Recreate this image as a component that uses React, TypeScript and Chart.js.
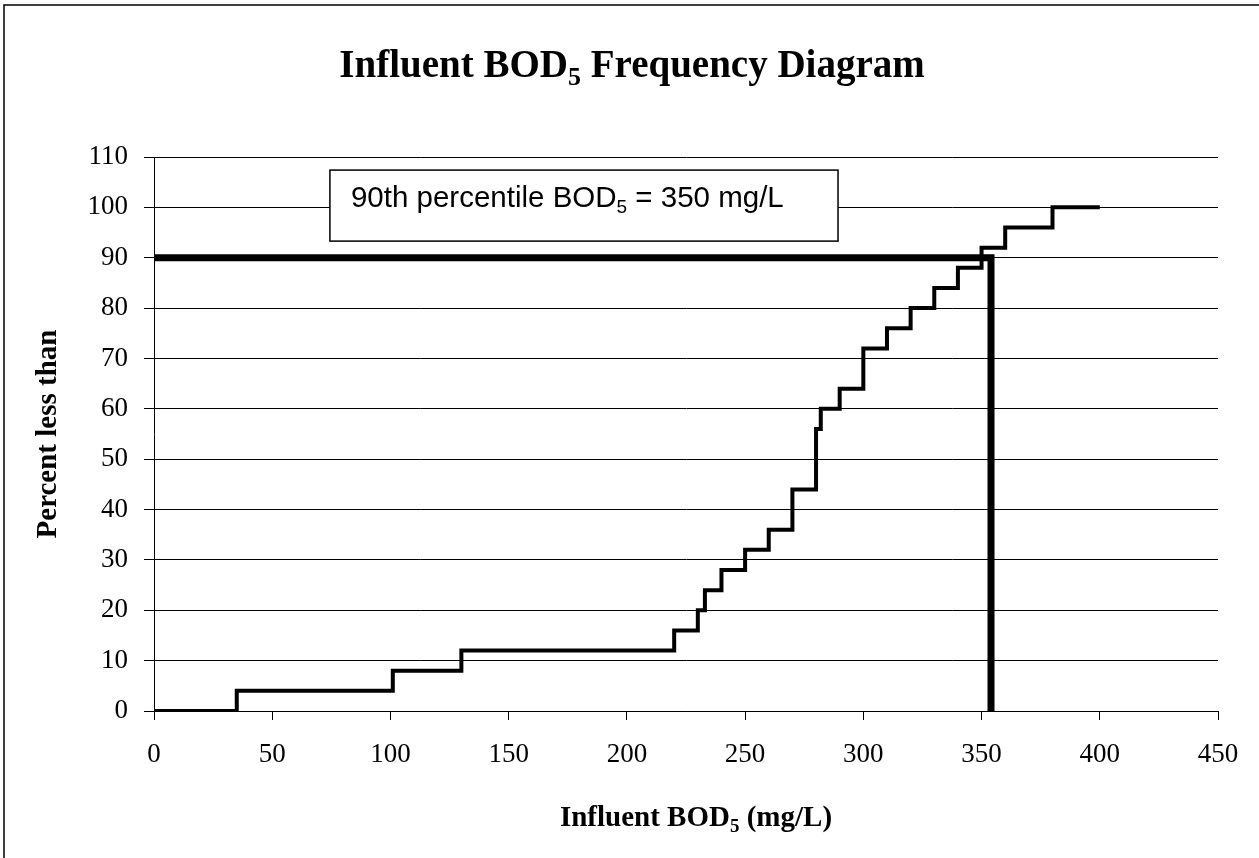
import React, { useEffect, useRef } from "react";
import { Chart, registerables } from "chart.js";

Chart.register(...registerables);

// Cumulative frequency curve (step): x = influent BOD5 (mg/L), y = percent less than
const bodValues = [0, 35, 101, 130, 220, 230, 233, 240, 250, 260, 270, 280, 282, 290, 300, 310, 320, 330, 340, 350, 360, 380, 400];
const percentLessThan = [0, 4, 8, 12, 16, 20, 24, 28, 32, 36, 44, 56, 60, 64, 72, 76, 80, 84, 88, 92, 96, 100, 100];

// 90th percentile guide line
const percentileLineX = [0, 354, 354];
const percentileLineY = [90, 90, 0];

// Axis ticks
const xTickValues = [0, 50, 100, 150, 200, 250, 300, 350, 400, 450];
const yTickValues = [0, 10, 20, 30, 40, 50, 60, 70, 80, 90, 100, 110];

// Texts (runs: [normal, subscript, normal])
const titleRuns = ["Influent BOD", "5", " Frequency Diagram"];
const xTitleRuns = ["Influent BOD", "5", " (mg/L)"];
const yTitleText = "Percent less than";
const noteRuns = ["90th percentile BOD", "5", " = 350 mg/L"];

const SERIF = "'Liberation Serif', 'Times New Roman', serif";
const SANS = "'Liberation Sans', Arial, sans-serif";

function drawRuns(
  ctx: CanvasRenderingContext2D,
  runs: string[],
  x: number,
  y: number,
  size: number,
  weight: string,
  family: string,
  align: "left" | "center"
) {
  const subSize = Math.round(size * 0.66);
  const fonts = runs.map((_, i) => `${weight} ${i === 1 ? subSize : size}px ${family}`);
  const widths = runs.map((t, i) => {
    ctx.font = fonts[i];
    return ctx.measureText(t).width;
  });
  const total = widths.reduce((a, b) => a + b, 0);
  let cx = align === "center" ? x - total / 2 : x;
  ctx.textAlign = "left";
  ctx.textBaseline = "alphabetic";
  runs.forEach((t, i) => {
    ctx.font = fonts[i];
    ctx.fillText(t, cx, i === 1 ? y + size * 0.2 : y);
    cx += widths[i];
  });
}

const decorPlugin = {
  id: "decor",
  beforeDraw(chart: any) {
    const ctx = chart.ctx as CanvasRenderingContext2D;
    ctx.save();
    ctx.fillStyle = "#fff";
    ctx.fillRect(0, 0, chart.width, chart.height);
    ctx.strokeStyle = "#000";
    ctx.lineWidth = 1.5;
    ctx.beginPath();
    ctx.moveTo(4, chart.height);
    ctx.lineTo(4, 5);
    ctx.lineTo(chart.width, 5);
    ctx.stroke();
    ctx.restore();
  },
  afterDraw(chart: any) {
    const ctx = chart.ctx as CanvasRenderingContext2D;
    const xs = chart.scales.x;
    const ys = chart.scales.y;
    const area = chart.chartArea;
    ctx.save();
    ctx.fillStyle = "#000";

    // Title
    drawRuns(ctx, titleRuns, 632, 77, 39, "bold", SERIF, "center");

    // X axis title
    drawRuns(ctx, xTitleRuns, 696, 826, 29, "bold", SERIF, "center");

    // Y axis title
    ctx.save();
    ctx.translate(49, (area.top + area.bottom) / 2);
    ctx.rotate(-Math.PI / 2);
    ctx.font = `bold 29px ${SERIF}`;
    ctx.textAlign = "center";
    ctx.textBaseline = "middle";
    ctx.fillText(yTitleText, 0, 0);
    ctx.restore();

    // Annotation box
    const bx0 = xs.getPixelForValue(74.4);
    const bx1 = xs.getPixelForValue(289.3);
    const by0 = ys.getPixelForValue(107.4);
    const by1 = ys.getPixelForValue(93.3);
    ctx.fillStyle = "#fff";
    ctx.fillRect(bx0, by0, bx1 - bx0, by1 - by0);
    ctx.strokeStyle = "#000";
    ctx.lineWidth = 1.5;
    ctx.strokeRect(bx0, by0, bx1 - bx0, by1 - by0);
    ctx.fillStyle = "#000";
    drawRuns(ctx, noteRuns, bx0 + 21, by0 + 37, 29.5, "normal", SANS, "left");
    ctx.restore();
  },
};

export default function App() {
  const canvasRef = useRef<HTMLCanvasElement | null>(null);

  useEffect(() => {
    if (!canvasRef.current) return;
    const stepData = bodValues.map((x, i) => ({ x, y: percentLessThan[i] }));
    const guideData = percentileLineX.map((x, i) => ({ x, y: percentileLineY[i] }));

    const chart = new Chart(canvasRef.current, {
      type: "line",
      data: {
        datasets: [
          {
            label: "Percent less than",
            data: stepData,
            borderColor: "#000",
            borderWidth: 4,
            stepped: "before",
            pointRadius: 0,
            fill: false,
          },
          {
            label: "90th percentile",
            data: guideData,
            borderColor: "#000",
            borderWidth: 7,
            pointRadius: 0,
            fill: false,
            borderJoinStyle: "miter",
            borderCapStyle: "butt",
          },
        ],
      },
      options: {
        animation: false,
        responsive: true,
        maintainAspectRatio: false,
        layout: { padding: { top: 157, right: 41, bottom: 0, left: 0 } },
        plugins: {
          legend: { display: false },
          title: { display: false },
          tooltip: { enabled: false },
        },
        scales: {
          x: {
            type: "linear",
            min: 0,
            max: 450,
            afterBuildTicks: (scale: any) => {
              scale.ticks = xTickValues.map((v) => ({ value: v }));
            },
            afterFit: (scale: any) => {
              scale.height = 147;
            },
            ticks: {
              color: "#000",
              font: { family: SERIF, size: 27 },
              padding: 19,
              maxRotation: 0,
              autoSkip: false,
            },
            grid: {
              drawOnChartArea: false,
              drawTicks: true,
              tickLength: 9,
              tickColor: "#000",
              tickWidth: 1,
            },
            border: { display: true, color: "#000", width: 1 },
          },
          y: {
            type: "linear",
            min: 0,
            max: 110,
            afterBuildTicks: (scale: any) => {
              scale.ticks = yTickValues.map((v) => ({ value: v }));
            },
            afterFit: (scale: any) => {
              scale.width = 154;
            },
            ticks: {
              color: "#000",
              font: { family: SERIF, size: 27 },
              padding: 16,
              autoSkip: false,
            },
            grid: {
              color: "#000",
              lineWidth: 1,
              drawTicks: true,
              tickLength: 10,
              tickColor: "#000",
            },
            border: { display: true, color: "#000", width: 1 },
          },
        },
      },
      plugins: [decorPlugin],
    });

    return () => chart.destroy();
  }, []);

  return (
    <div style={{ position: "absolute", left: 0, top: 0, width: 1259, height: 858, background: "#fff" }}>
      <canvas ref={canvasRef} />
    </div>
  );
}
